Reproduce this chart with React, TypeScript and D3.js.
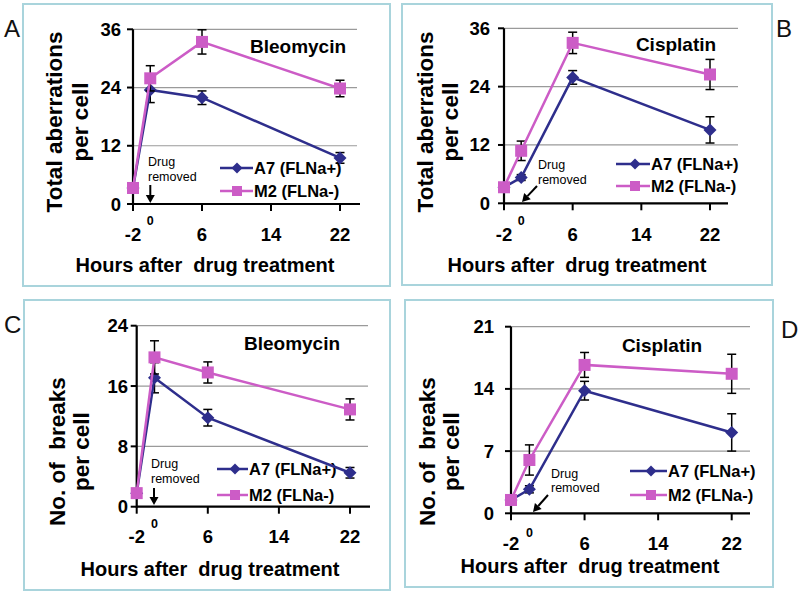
import React from "react";
import * as d3 from "d3";

const hours = [-2, 0, 6, 22];
const xTicks = [-2, 6, 14, 22];
const seriesNames = ["A7 (FLNa+)", "M2 (FLNa-)"];

// Panel A: total aberrations, Bleomycin
const aA7 = [3.3, 23.5, 21.9, 9.5];
const aA7Err = [0.5, 2.6, 1.4, 1.1];
const aM2 = [3.3, 25.9, 33.4, 23.8];
const aM2Err = [0.5, 2.6, 2.5, 1.7];
const aTicks = [0, 12, 24, 36];

// Panel B: total aberrations, Cisplatin
const bA7 = [3.3, 5.3, 25.9, 15.1];
const bA7Err = [0.4, 0.6, 1.4, 2.7];
const bM2 = [3.3, 10.8, 33.0, 26.5];
const bM2Err = [0.4, 2.0, 2.2, 3.1];
const bTicks = [0, 12, 24, 36];

// Panel C: breaks, Bleomycin
const cA7 = [1.8, 17.1, 11.8, 4.5];
const cA7Err = [0.3, 2.0, 1.1, 0.7];
const cM2 = [1.8, 19.8, 17.8, 12.9];
const cM2Err = [0.3, 2.2, 1.4, 1.4];
const cTicks = [0, 8, 16, 24];

// Panel D: breaks, Cisplatin
const dA7 = [1.5, 2.7, 13.8, 9.1];
const dA7Err = [0.3, 0.4, 1.05, 2.1];
const dM2 = [1.5, 6.0, 16.7, 15.7];
const dM2Err = [0.3, 1.7, 1.4, 2.2];
const dTicks = [0, 7, 14, 21];

const NAVY = "#2e2e8c";
const PINK = "#cc5cc6";
const FRAME = "#a9d4dc";
const FONT = "'Liberation Sans', Arial, Helvetica, sans-serif";

type Cfg = {
  letter: string;
  lx: number;
  ly: number;
  frame: [number, number, number, number];
  x0: number;
  x1: number;
  axisEnd: number;
  gridEnd: number;
  y0: number;
  yTop: number;
  yLabX: number;
  xLabY: number;
  zeroY: number;
  titleX: number;
  titleY: number;
  yt1X: number;
  yt2X: number;
  ytY: number;
  yt1: string;
  drug: string;
  drugX: number;
  drugY: number;
  legLine: [number, number];
  legMarker: number;
  legText: number;
  legY: [number, number];
  dr1: number;
  dr2: number;
  drX: number;
  arrow: [number, number, number, number];
};

function Arrow({ a }: { a: [number, number, number, number] }) {
  const [x1, y1, x2, y2] = a;
  const dx = x2 - x1;
  const dy = y2 - y1;
  const len = Math.hypot(dx, dy);
  const ux = dx / len;
  const uy = dy / len;
  const hl = 8;
  const hw = 4.5;
  const bx = x2 - ux * hl;
  const by = y2 - uy * hl;
  const pts = [
    [x2, y2],
    [bx - uy * hw, by + ux * hw],
    [bx + uy * hw, by - ux * hw],
  ];
  return (
    <g>
      <line x1={x1} y1={y1} x2={bx} y2={by} stroke="#000" strokeWidth={2} />
      <polygon points={pts.map((p) => p.join(",")).join(" ")} fill="#000" />
    </g>
  );
}

function diamond(cx: number, cy: number, w: number, h: number) {
  return `M${cx},${cy - h}L${cx + w},${cy}L${cx},${cy + h}L${cx - w},${cy}Z`;
}

function Panel({
  cfg,
  a7,
  a7e,
  m2,
  m2e,
  ticks,
}: {
  cfg: Cfg;
  a7: number[];
  a7e: number[];
  m2: number[];
  m2e: number[];
  ticks: number[];
}) {
  const yMax = ticks[ticks.length - 1];
  const x = d3.scaleLinear().domain([-2, 22]).range([cfg.x0, cfg.x1]);
  const y = d3.scaleLinear().domain([0, yMax]).range([cfg.y0, cfg.yTop]);
  const line = d3
    .line<number>()
    .x((_, i) => x(hours[i]))
    .y((d) => y(d));
  const [fx, fy, fw, fh] = cfg.frame;
  const errBars = (vals: number[], errs: number[]) =>
    vals.map((v, i) => {
      const cx = x(hours[i]);
      const t = y(v + errs[i]);
      const b = y(v - errs[i]);
      return (
        <g key={i} stroke="#000" strokeWidth={1.5}>
          <line x1={cx} x2={cx} y1={t} y2={b} />
          <line x1={cx - 4.5} x2={cx + 4.5} y1={t} y2={t} />
          <line x1={cx - 4.5} x2={cx + 4.5} y1={b} y2={b} />
        </g>
      );
    });
  return (
    <g fontFamily={FONT}>
      <rect x={fx} y={fy} width={fw} height={fh} fill="#fff" stroke={FRAME} strokeWidth={2} />
      <text x={cfg.lx} y={cfg.ly} fontSize={24} fill="#111">
        {cfg.letter}
      </text>
      {/* gridlines */}
      {ticks
        .filter((t) => t > 0)
        .map((t) => (
          <line key={t} x1={cfg.x0} x2={cfg.gridEnd} y1={y(t)} y2={y(t)} stroke="#9a9a9a" strokeWidth={1.2} />
        ))}
      {/* y axis */}
      <line x1={cfg.x0} x2={cfg.x0} y1={cfg.y0 + 1} y2={cfg.yTop} stroke="#000" strokeWidth={2.2} />
      {ticks.map((t) => (
        <g key={t}>
          <line x1={cfg.x0 - 6} x2={cfg.x0} y1={y(t)} y2={y(t)} stroke="#000" strokeWidth={2} />
          <text x={cfg.yLabX} y={y(t) + 6.5} textAnchor="end" fontSize={18.5} fontWeight="bold" fill="#000">
            {t}
          </text>
        </g>
      ))}
      {/* x axis */}
      <line x1={cfg.x0} x2={cfg.axisEnd} y1={cfg.y0} y2={cfg.y0} stroke="#000" strokeWidth={2.2} />
      {xTicks.map((t) => (
        <g key={t}>
          <line x1={x(t)} x2={x(t)} y1={cfg.y0} y2={cfg.y0 + 7} stroke="#000" strokeWidth={2} />
          <text x={x(t)} y={cfg.xLabY} textAnchor="middle" fontSize={18.5} fontWeight="bold" fill="#000">
            {t}
          </text>
        </g>
      ))}
      <text x={x(0)} y={cfg.zeroY} textAnchor="middle" fontSize={12.5} fontWeight="bold" fill="#000">
        0
      </text>
      {/* axis titles */}
      <text
        x={cfg.titleX}
        y={cfg.titleY}
        textAnchor="middle"
        fontSize={20}
        fontWeight="bold"
        fill="#000"
        style={{ whiteSpace: "pre" }}
      >
        {"Hours after  drug treatment"}
      </text>
      <text
        transform={`translate(${cfg.yt1X},${cfg.ytY}) rotate(-90)`}
        textAnchor="middle"
        fontSize={22.5}
        fontWeight="bold"
        fill="#000"
        style={{ whiteSpace: "pre" }}
      >
        {cfg.yt1}
      </text>
      <text
        transform={`translate(${cfg.yt2X},${cfg.ytY}) rotate(-90)`}
        textAnchor="middle"
        fontSize={22.5}
        fontWeight="bold"
        fill="#000"
      >
        per cell
      </text>
      {/* drug name */}
      <text x={cfg.drugX} y={cfg.drugY} textAnchor="middle" fontSize={19} fontWeight="bold" fill="#000">
        {cfg.drug}
      </text>
      {/* drug removed annotation */}
      <text x={cfg.drX} y={cfg.dr1} fontSize={12.5} fill="#000">
        Drug
      </text>
      <text x={cfg.drX} y={cfg.dr2} fontSize={12.5} fill="#000">
        removed
      </text>
      <Arrow a={cfg.arrow} />
      {/* legend */}
      {[0, 1].map((k) => {
        const ly = cfg.legY[k];
        const col = k === 0 ? NAVY : PINK;
        const mx = cfg.legMarker;
        return (
          <g key={k}>
            <line x1={cfg.legLine[0]} x2={cfg.legLine[1]} y1={ly} y2={ly} stroke={col} strokeWidth={2.5} />
            {k === 0 ? (
              <path d={diamond(mx, ly, 5.5, 5.5)} fill={col} />
            ) : (
              <rect x={mx - 5} y={ly - 5} width={10} height={10} fill={col} />
            )}
            <text x={cfg.legText} y={ly + 6} fontSize={16.5} fontWeight="bold" fill="#000">
              {seriesNames[k]}
            </text>
          </g>
        );
      })}
      {/* series */}
      {errBars(a7, a7e)}
      <path d={line(a7) || ""} fill="none" stroke={NAVY} strokeWidth={2.5} />
      {a7.map((v, i) => (
        <path key={i} d={diamond(x(hours[i]), y(v), 6.5, 6.5)} fill={NAVY} />
      ))}
      {errBars(m2, m2e)}
      <path d={line(m2) || ""} fill="none" stroke={PINK} strokeWidth={2.5} />
      {m2.map((v, i) => (
        <rect key={i} x={x(hours[i]) - 6} y={y(v) - 6} width={12} height={12} fill={PINK} />
      ))}
    </g>
  );
}

const cfgA: Cfg = {
  letter: "A", lx: 4, ly: 37, frame: [23, 4, 367, 282],
  x0: 133, x1: 340, axisEnd: 360, gridEnd: 357, y0: 204, yTop: 29.3,
  yLabX: 121, xLabY: 241, zeroY: 225, titleX: 205, titleY: 272,
  yt1X: 62, yt2X: 88, ytY: 122, yt1: "Total aberrations",
  drug: "Bleomycin", drugX: 298, drugY: 53,
  legLine: [220, 253], legMarker: 237, legText: 254, legY: [168, 191],
  dr1: 166, dr2: 181, drX: 148, arrow: [150.3, 185, 150.3, 203],
};
const cfgB: Cfg = {
  letter: "B", lx: 776, ly: 37, frame: [402, 4, 370, 281],
  x0: 504, x1: 710, axisEnd: 728, gridEnd: 738, y0: 203.3, yTop: 28.3,
  yLabX: 490, xLabY: 241, zeroY: 225, titleX: 577, titleY: 272,
  yt1X: 433, yt2X: 458, ytY: 122, yt1: "Total aberrations",
  drug: "Cisplatin", drugX: 676, drugY: 51,
  legLine: [616, 650], legMarker: 635, legText: 651, legY: [164, 186],
  dr1: 169, dr2: 184, drX: 538, arrow: [537, 186, 522, 202],
};
const cfgC: Cfg = {
  letter: "C", lx: 4, ly: 333, frame: [24, 300, 366, 290],
  x0: 136.7, x1: 350, axisEnd: 370, gridEnd: 368, y0: 506.7, yTop: 325.7,
  yLabX: 128, xLabY: 543, zeroY: 528, titleX: 210, titleY: 576,
  yt1X: 65, yt2X: 89, ytY: 451.7, yt1: "No. of  breaks",
  drug: "Bleomycin", drugX: 292, drugY: 350,
  legLine: [217, 248], legMarker: 235, legText: 249, legY: [469, 495],
  dr1: 468, dr2: 483, drX: 151, arrow: [154, 488, 154, 505],
};
const cfgD: Cfg = {
  letter: "D", lx: 781, ly: 338, frame: [405, 300, 368, 287],
  x0: 511, x1: 731.7, axisEnd: 750, gridEnd: 750, y0: 513.3, yTop: 326.7,
  yLabX: 494, xLabY: 550, zeroY: 537, titleX: 590, titleY: 573,
  yt1X: 435, yt2X: 459, ytY: 451.7, yt1: "No. of  breaks",
  drug: "Cisplatin", drugX: 662, drugY: 352,
  legLine: [630, 667], legMarker: 651, legText: 668, legY: [471, 495],
  dr1: 478, dr2: 492, drX: 551, arrow: [548, 495, 533, 512],
};

export default function App() {
  return (
    <svg
      width={800}
      height={595}
      viewBox="0 0 800 595"
      style={{ position: "absolute", left: 0, top: 0, background: "#fff" }}
    >
      <rect x={0} y={0} width={800} height={595} fill="#fff" />
      <Panel cfg={cfgA} a7={aA7} a7e={aA7Err} m2={aM2} m2e={aM2Err} ticks={aTicks} />
      <Panel cfg={cfgB} a7={bA7} a7e={bA7Err} m2={bM2} m2e={bM2Err} ticks={bTicks} />
      <Panel cfg={cfgC} a7={cA7} a7e={cA7Err} m2={cM2} m2e={cM2Err} ticks={cTicks} />
      <Panel cfg={cfgD} a7={dA7} a7e={dA7Err} m2={dM2} m2e={dM2Err} ticks={dTicks} />
    </svg>
  );
}
